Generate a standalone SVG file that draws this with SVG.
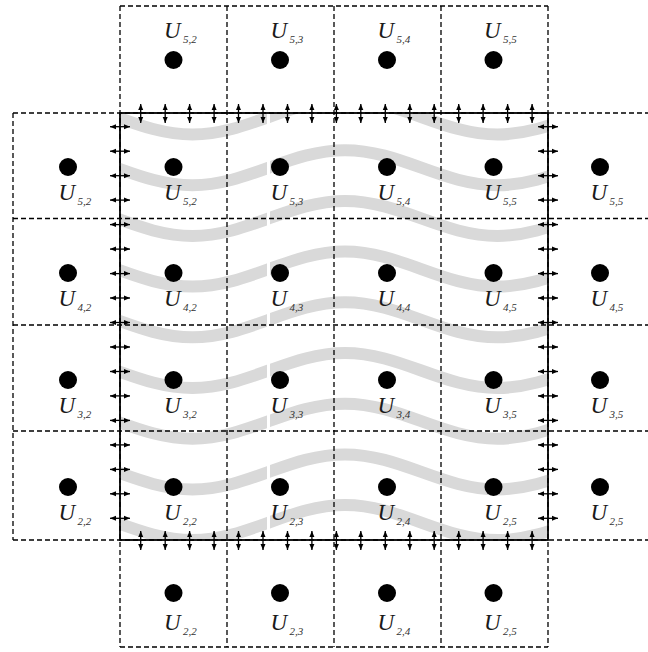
<svg xmlns="http://www.w3.org/2000/svg" xmlns:xlink="http://www.w3.org/1999/xlink" width="648" height="652" viewBox="0 0 648 652">
<style>
.dash{stroke:#000;stroke-width:1.3;stroke-dasharray:5 3;fill:none}
.bound{stroke:#000;stroke-width:1.8;fill:none}
.band{stroke:#d9d9d9;stroke-width:12;fill:none}
.arr{stroke:#000;stroke-width:1.3;marker-start:url(#ah);marker-end:url(#ah)}
.dot{fill:#000}
.u{font-family:"Liberation Serif",serif;font-style:italic;font-size:23px;fill:#1a1a1a}
.s{font-family:"Liberation Serif",serif;font-style:italic;font-size:11px;fill:#333}
</style>
<defs>
<marker id="ah" viewBox="0 0 6 6" refX="6" refY="3" markerWidth="6" markerHeight="6" markerUnits="userSpaceOnUse" orient="auto-start-reverse">
<path d="M0,0.5 L6,3 L0,5.5 z" fill="#000"/>
</marker>
<clipPath id="clipL"><rect x="120" y="113" width="147" height="427"/></clipPath>
<clipPath id="clipR"><rect x="270" y="113" width="277" height="427"/></clipPath>
<path id="wave" d="M40,-17.5 C95.5,-17.5 137,17.5 192.5,17.5 C248,17.5 289.5,-17.5 345,-17.5 C400.5,-17.5 442,17.5 497.5,17.5 C553,17.5 594.5,-17.5 650,-17.5"/>
<g id="bands" class="band">
<use xlink:href="#wave" y="117"/>
<use xlink:href="#wave" y="167.7"/>
<use xlink:href="#wave" y="218.4"/>
<use xlink:href="#wave" y="269.1"/>
<use xlink:href="#wave" y="319.8"/>
<use xlink:href="#wave" y="370.5"/>
<use xlink:href="#wave" y="421.2"/>
<use xlink:href="#wave" y="471.9"/>
<use xlink:href="#wave" y="522.6"/>
</g>
</defs>
<rect width="648" height="652" fill="#fff"/>
<g id="flow-bands">
<use xlink:href="#bands" clip-path="url(#clipL)"/>
<use xlink:href="#bands" clip-path="url(#clipR)"/>
</g>
<g id="grid" class="dash">
<line x1="13" y1="113" x2="13" y2="540"/>
<line x1="120" y1="6" x2="120" y2="647"/>
<line x1="227" y1="6" x2="227" y2="647"/>
<line x1="334" y1="6" x2="334" y2="647"/>
<line x1="441" y1="6" x2="441" y2="647"/>
<line x1="548" y1="6" x2="548" y2="647"/>
<line x1="120" y1="6" x2="548" y2="6"/>
<line x1="120" y1="647" x2="548" y2="647"/>
<line x1="13" y1="113" x2="648" y2="113"/>
<line x1="13" y1="218.5" x2="648" y2="218.5"/>
<line x1="13" y1="325" x2="648" y2="325"/>
<line x1="13" y1="431" x2="648" y2="431"/>
<line x1="13" y1="540" x2="648" y2="540"/>
</g>
<rect id="domain" class="bound" x="120" y="113" width="428" height="427"/>
<g id="connectors" class="arr">
<line x1="140.7" y1="104" x2="140.7" y2="123"/><line x1="165.2" y1="104" x2="165.2" y2="123"/><line x1="189.6" y1="104" x2="189.6" y2="123"/><line x1="214.1" y1="104" x2="214.1" y2="123"/><line x1="238.5" y1="104" x2="238.5" y2="123"/><line x1="263" y1="104" x2="263" y2="123"/><line x1="287.5" y1="104" x2="287.5" y2="123"/><line x1="311.9" y1="104" x2="311.9" y2="123"/><line x1="336.4" y1="104" x2="336.4" y2="123"/><line x1="360.8" y1="104" x2="360.8" y2="123"/><line x1="385.3" y1="104" x2="385.3" y2="123"/><line x1="409.8" y1="104" x2="409.8" y2="123"/><line x1="434.2" y1="104" x2="434.2" y2="123"/><line x1="458.7" y1="104" x2="458.7" y2="123"/><line x1="483.1" y1="104" x2="483.1" y2="123"/><line x1="507.6" y1="104" x2="507.6" y2="123"/><line x1="532.1" y1="104" x2="532.1" y2="123"/>
<line x1="140.7" y1="531" x2="140.7" y2="550"/><line x1="165.2" y1="531" x2="165.2" y2="550"/><line x1="189.6" y1="531" x2="189.6" y2="550"/><line x1="214.1" y1="531" x2="214.1" y2="550"/><line x1="238.5" y1="531" x2="238.5" y2="550"/><line x1="263" y1="531" x2="263" y2="550"/><line x1="287.5" y1="531" x2="287.5" y2="550"/><line x1="311.9" y1="531" x2="311.9" y2="550"/><line x1="336.4" y1="531" x2="336.4" y2="550"/><line x1="360.8" y1="531" x2="360.8" y2="550"/><line x1="385.3" y1="531" x2="385.3" y2="550"/><line x1="409.8" y1="531" x2="409.8" y2="550"/><line x1="434.2" y1="531" x2="434.2" y2="550"/><line x1="458.7" y1="531" x2="458.7" y2="550"/><line x1="483.1" y1="531" x2="483.1" y2="550"/><line x1="507.6" y1="531" x2="507.6" y2="550"/><line x1="532.1" y1="531" x2="532.1" y2="550"/>
<line x1="110" y1="126.7" x2="130" y2="126.7"/><line x1="110" y1="151.2" x2="130" y2="151.2"/><line x1="110" y1="175.7" x2="130" y2="175.7"/><line x1="110" y1="200.1" x2="130" y2="200.1"/><line x1="110" y1="224.6" x2="130" y2="224.6"/><line x1="110" y1="249.1" x2="130" y2="249.1"/><line x1="110" y1="273.6" x2="130" y2="273.6"/><line x1="110" y1="298" x2="130" y2="298"/><line x1="110" y1="322.5" x2="130" y2="322.5"/><line x1="110" y1="347" x2="130" y2="347"/><line x1="110" y1="371.5" x2="130" y2="371.5"/><line x1="110" y1="395.9" x2="130" y2="395.9"/><line x1="110" y1="420.4" x2="130" y2="420.4"/><line x1="110" y1="444.9" x2="130" y2="444.9"/><line x1="110" y1="469.4" x2="130" y2="469.4"/><line x1="110" y1="493.8" x2="130" y2="493.8"/><line x1="110" y1="518.3" x2="130" y2="518.3"/>
<line x1="538" y1="126.7" x2="558" y2="126.7"/><line x1="538" y1="151.2" x2="558" y2="151.2"/><line x1="538" y1="175.7" x2="558" y2="175.7"/><line x1="538" y1="200.1" x2="558" y2="200.1"/><line x1="538" y1="224.6" x2="558" y2="224.6"/><line x1="538" y1="249.1" x2="558" y2="249.1"/><line x1="538" y1="273.6" x2="558" y2="273.6"/><line x1="538" y1="298" x2="558" y2="298"/><line x1="538" y1="322.5" x2="558" y2="322.5"/><line x1="538" y1="347" x2="558" y2="347"/><line x1="538" y1="371.5" x2="558" y2="371.5"/><line x1="538" y1="395.9" x2="558" y2="395.9"/><line x1="538" y1="420.4" x2="558" y2="420.4"/><line x1="538" y1="444.9" x2="558" y2="444.9"/><line x1="538" y1="469.4" x2="558" y2="469.4"/><line x1="538" y1="493.8" x2="558" y2="493.8"/><line x1="538" y1="518.3" x2="558" y2="518.3"/>
</g>
<!-- top ghost row -->
<g id="ghost-top-2"><circle class="dot" cx="173.5" cy="60" r="9"/><text class="u" x="164" y="38">U</text><text class="s" x="183" y="43">5,2</text></g>
<g id="ghost-top-3"><circle class="dot" cx="280" cy="60" r="9"/><text class="u" x="270.5" y="38">U</text><text class="s" x="289.5" y="43">5,3</text></g>
<g id="ghost-top-4"><circle class="dot" cx="387" cy="60" r="9"/><text class="u" x="377.5" y="38">U</text><text class="s" x="396.5" y="43">5,4</text></g>
<g id="ghost-top-5"><circle class="dot" cx="493.5" cy="60" r="9"/><text class="u" x="484" y="38">U</text><text class="s" x="503" y="43">5,5</text></g>
<!-- row 5 -->
<g id="ghost-left-5"><circle class="dot" cx="68" cy="167" r="9"/><text class="u" x="58.5" y="200">U</text><text class="s" x="77.5" y="205">5,2</text></g>
<g id="cell-5-2"><circle class="dot" cx="173.5" cy="167" r="9"/><text class="u" x="164" y="200">U</text><text class="s" x="183" y="205">5,2</text></g>
<g id="cell-5-3"><circle class="dot" cx="280" cy="167" r="9"/><text class="u" x="270.5" y="200">U</text><text class="s" x="289.5" y="205">5,3</text></g>
<g id="cell-5-4"><circle class="dot" cx="387" cy="167" r="9"/><text class="u" x="377.5" y="200">U</text><text class="s" x="396.5" y="205">5,4</text></g>
<g id="cell-5-5"><circle class="dot" cx="493.5" cy="167" r="9"/><text class="u" x="484" y="200">U</text><text class="s" x="503" y="205">5,5</text></g>
<g id="ghost-right-5"><circle class="dot" cx="600" cy="167" r="9"/><text class="u" x="590.5" y="200">U</text><text class="s" x="609.5" y="205">5,5</text></g>
<!-- row 4 -->
<g id="ghost-left-4"><circle class="dot" cx="68" cy="273" r="9"/><text class="u" x="58.5" y="306">U</text><text class="s" x="77.5" y="311">4,2</text></g>
<g id="cell-4-2"><circle class="dot" cx="173.5" cy="273" r="9"/><text class="u" x="164" y="306">U</text><text class="s" x="183" y="311">4,2</text></g>
<g id="cell-4-3"><circle class="dot" cx="280" cy="273" r="9"/><text class="u" x="270.5" y="306">U</text><text class="s" x="289.5" y="311">4,3</text></g>
<g id="cell-4-4"><circle class="dot" cx="387" cy="273" r="9"/><text class="u" x="377.5" y="306">U</text><text class="s" x="396.5" y="311">4,4</text></g>
<g id="cell-4-5"><circle class="dot" cx="493.5" cy="273" r="9"/><text class="u" x="484" y="306">U</text><text class="s" x="503" y="311">4,5</text></g>
<g id="ghost-right-4"><circle class="dot" cx="600" cy="273" r="9"/><text class="u" x="590.5" y="306">U</text><text class="s" x="609.5" y="311">4,5</text></g>
<!-- row 3 -->
<g id="ghost-left-3"><circle class="dot" cx="68" cy="380" r="9"/><text class="u" x="58.5" y="413">U</text><text class="s" x="77.5" y="418">3,2</text></g>
<g id="cell-3-2"><circle class="dot" cx="173.5" cy="380" r="9"/><text class="u" x="164" y="413">U</text><text class="s" x="183" y="418">3,2</text></g>
<g id="cell-3-3"><circle class="dot" cx="280" cy="380" r="9"/><text class="u" x="270.5" y="413">U</text><text class="s" x="289.5" y="418">3,3</text></g>
<g id="cell-3-4"><circle class="dot" cx="387" cy="380" r="9"/><text class="u" x="377.5" y="413">U</text><text class="s" x="396.5" y="418">3,4</text></g>
<g id="cell-3-5"><circle class="dot" cx="493.5" cy="380" r="9"/><text class="u" x="484" y="413">U</text><text class="s" x="503" y="418">3,5</text></g>
<g id="ghost-right-3"><circle class="dot" cx="600" cy="380" r="9"/><text class="u" x="590.5" y="413">U</text><text class="s" x="609.5" y="418">3,5</text></g>
<!-- row 2 -->
<g id="ghost-left-2"><circle class="dot" cx="68" cy="487" r="9"/><text class="u" x="58.5" y="520">U</text><text class="s" x="77.5" y="525">2,2</text></g>
<g id="cell-2-2"><circle class="dot" cx="173.5" cy="487" r="9"/><text class="u" x="164" y="520">U</text><text class="s" x="183" y="525">2,2</text></g>
<g id="cell-2-3"><circle class="dot" cx="280" cy="487" r="9"/><text class="u" x="270.5" y="520">U</text><text class="s" x="289.5" y="525">2,3</text></g>
<g id="cell-2-4"><circle class="dot" cx="387" cy="487" r="9"/><text class="u" x="377.5" y="520">U</text><text class="s" x="396.5" y="525">2,4</text></g>
<g id="cell-2-5"><circle class="dot" cx="493.5" cy="487" r="9"/><text class="u" x="484" y="520">U</text><text class="s" x="503" y="525">2,5</text></g>
<g id="ghost-right-2"><circle class="dot" cx="600" cy="487" r="9"/><text class="u" x="590.5" y="520">U</text><text class="s" x="609.5" y="525">2,5</text></g>
<!-- bottom ghost row -->
<g id="ghost-bottom-2"><circle class="dot" cx="173.5" cy="593" r="9"/><text class="u" x="164" y="630">U</text><text class="s" x="183" y="635">2,2</text></g>
<g id="ghost-bottom-3"><circle class="dot" cx="280" cy="593" r="9"/><text class="u" x="270.5" y="630">U</text><text class="s" x="289.5" y="635">2,3</text></g>
<g id="ghost-bottom-4"><circle class="dot" cx="387" cy="593" r="9"/><text class="u" x="377.5" y="630">U</text><text class="s" x="396.5" y="635">2,4</text></g>
<g id="ghost-bottom-5"><circle class="dot" cx="493.5" cy="593" r="9"/><text class="u" x="484" y="630">U</text><text class="s" x="503" y="635">2,5</text></g>
</svg>
